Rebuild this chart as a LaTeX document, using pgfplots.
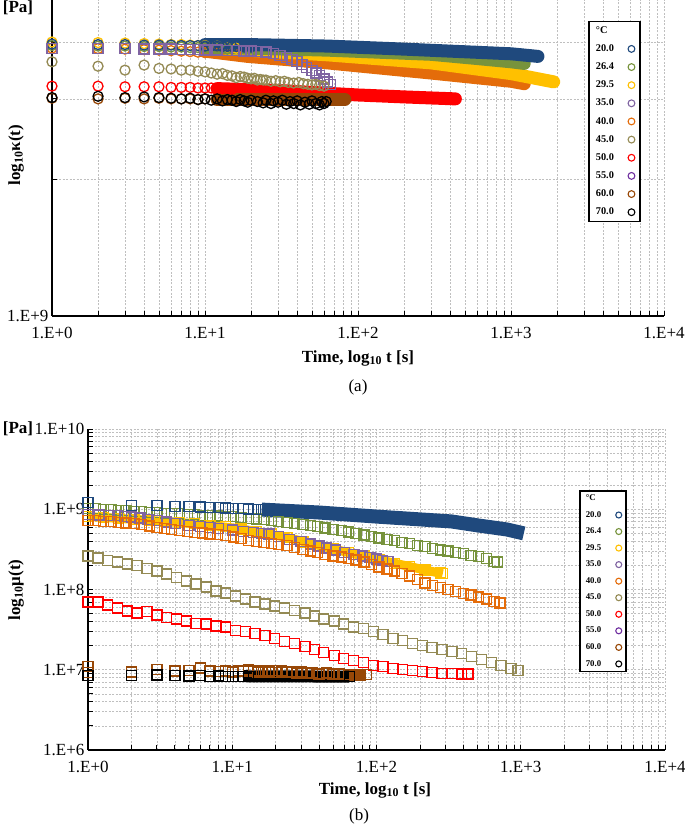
\documentclass[border=0pt]{standalone}
\usepackage{fontspec}
\setmainfont{Liberation Serif}
\usepackage{pgfplots}
\pgfplotsset{compat=1.18}
\definecolor{c20}{HTML}{1F497D}
\definecolor{c26}{HTML}{77933C}
\definecolor{c29}{HTML}{FFC000}
\definecolor{c35}{HTML}{8064A2}
\definecolor{c40}{HTML}{E46C0A}
\definecolor{c45}{HTML}{948A54}
\definecolor{c50}{HTML}{FF0000}
\definecolor{c55}{HTML}{7030A0}
\definecolor{c60}{HTML}{984807}
\definecolor{c70}{HTML}{000000}
\definecolor{gridc}{HTML}{BFBFBF}
\tikzset{
  mycirc/.style={only marks, mark=o, mark size=5pt, line width=1.3pt},
  mysq/.style={only marks, mark=square, mark size=5pt, line width=1.4pt},
  mybanda/.style={no marks, line width=13pt, line cap=round, line join=round},
  mybandb/.style={no marks, line width=12pt, line cap=butt, line join=round},
}
\begin{document}
\begin{tikzpicture}
\useasboundingbox (0pt,0pt) rectangle (685pt,825pt);
% ================= panel (a) =================
\begin{axis}[
  scale only axis, xmode=log, ymode=log, xmin=1, xmax=10000,
  axis lines*=left,
  axis line style={line width=1.4pt, black},
  xtick={1,10,100,1000,10000},
  xticklabels={1.E+0,1.E+1,1.E+2,1.E+3,1.E+4},
  minor xtick={2,3,4,5,6,7,8,9,20,30,40,50,60,70,80,90,200,300,400,500,600,700,800,900,2000,3000,4000,5000,6000,7000,8000,9000},
  xmajorgrids, xminorgrids, ymajorgrids, yminorgrids,
  major grid style={gridc, line width=0.6pt, dash pattern=on 2pt off 1.5pt},
  minor grid style={gridc, line width=0.6pt, dash pattern=on 2pt off 1.5pt},
  tick style={black, line width=0.8pt},
  major tick length=5pt, minor tick length=5pt,
  tick label style={font=\fontsize{17}{17}\selectfont},
  xticklabel style={yshift=-8pt},
  clip=false,
  at={(52pt,509pt)}, anchor=south west, width=612pt, height=316pt,
  ymin=1e9, ymax=4.95e9,
  ytick={1e9}, yticklabels={1.E+9}, minor ytick={2e9,3e9,4e9},
  legend cell align=left,
  legend plot pos=right,
  legend style={at={(axis description cs:0.876,0.934)}, anchor=north west,
    draw=black, line width=1.6pt, fill=white,
    font=\bfseries\fontsize{10.3}{12}\selectfont,
    inner xsep=5pt, inner ysep=3pt, row sep=5.8pt,
    /tikz/every odd column/.append style={column sep=7pt}},
]
% 40.0
\addplot[c40, mybanda, forget plot] coordinates {(10,3.82e9)(19,3.72e9)(63,3.6e9)(300,3.42e9)(1000,3.28e9)(1220,3.24e9)};
\addplot[c40, mycirc, forget plot] coordinates {(1,3.88e9)(2,3.87e9)(3,3.86e9)(4,3.85e9)(5,3.84e9)(6,3.83e9)(7,3.82e9)(8,3.81e9)(9,3.8e9)(10,3.79e9)(12,3.78e9)(14,3.76e9)(16,3.75e9)};
% 29.5
\addplot[c29, mybanda, forget plot] coordinates {(10,3.92e9)(19,3.84e9)(63,3.75e9)(300,3.6e9)(1000,3.41e9)(1900,3.27e9)};
\addplot[c29, mycirc, forget plot] coordinates {(1,4.0e9)(2,3.99e9)(3,3.98e9)(4,3.97e9)(5,3.96e9)(6,3.95e9)(7,3.95e9)(8,3.94e9)(9,3.93e9)(10,3.93e9)(12,3.92e9)(14,3.9e9)(16,3.88e9)};
% 26.4
\addplot[c26, mybanda, forget plot] coordinates {(10,3.9e9)(63,3.84e9)(300,3.76e9)(600,3.68e9)(1000,3.62e9)(1220,3.59e9)};
\addplot[c26, mycirc, forget plot] coordinates {(1,3.93e9)(2,3.92e9)(3,3.92e9)(4,3.91e9)(5,3.91e9)(6,3.9e9)(7,3.9e9)(8,3.89e9)(9,3.89e9)(10,3.88e9)(12,3.87e9)(14,3.86e9)};
% 20.0
\addplot[c20, mybanda, forget plot] coordinates {(10,3.95e9)(19,3.95e9)(63,3.92e9)(200,3.86e9)(1000,3.77e9)(1500,3.72e9)};
\addplot[c20, mycirc, forget plot] coordinates {(1,3.96e9)(2,3.95e9)(3,3.95e9)(4,3.94e9)(5,3.94e9)(6,3.94e9)(7,3.93e9)(8,3.93e9)(9,3.93e9)(10,3.92e9)(11,3.92e9)(12,3.92e9)(13,3.91e9)(14,3.91e9)(15,3.91e9)(16,3.91e9)(18,3.9e9)(20,3.9e9)};
% 35.0
\addplot[c35, mysq, forget plot] coordinates {(1,3.87e9)(2,3.87e9)(3,3.87e9)(4,3.86e9)(5,3.86e9)(6,3.86e9)(7,3.85e9)(8,3.85e9)(9,3.85e9)(10,3.84e9)(12,3.84e9)(14,3.83e9)(16,3.83e9)(18,3.82e9)(20,3.82e9)(22,3.81e9)(25,3.8e9)(28,3.78e9)(31,3.74e9)(34,3.7e9)(37,3.66e9)(40,3.62e9)(43,3.57e9)(46,3.52e9)(50,3.46e9)(53,3.42e9)(56,3.38e9)(60,3.32e9)(63,3.27e9)(66,3.23e9)};
% 45.0
\addplot[c45, mycirc, forget plot] coordinates {(1,3.62e9)(2,3.54e9)(3,3.47e9)(4,3.56e9)(5,3.5e9)(6,3.49e9)(7,3.47e9)(8,3.47e9)(9,3.45e9)(10,3.44e9)(11,3.42e9)(12,3.4e9)(13,3.41e9)(14,3.38e9)(15,3.37e9)(16,3.34e9)(17,3.36e9)(18,3.35e9)(19,3.33e9)(20,3.32e9)(21,3.33e9)(22,3.3e9)(23,3.31e9)(24,3.3e9)(25,3.3e9)(27,3.28e9)(29,3.29e9)(31,3.27e9)(33,3.28e9)(35,3.26e9)(38,3.25e9)(41,3.26e9)(44,3.24e9)(47,3.23e9)(50,3.22e9)(53,3.23e9)(56,3.21e9)(60,3.2e9)};
% 50.0
\addplot[c50, mybanda, forget plot] coordinates {(12,3.16e9)(30,3.13e9)(100,3.06e9)(200,3.03e9)(433,3.0e9)};
\addplot[c50, mycirc, forget plot] coordinates {(1,3.2e9)(2,3.2e9)(3,3.19e9)(4,3.19e9)(5,3.19e9)(6,3.18e9)(7,3.18e9)(8,3.18e9)(9,3.17e9)(10,3.17e9)(11,3.17e9)(12,3.16e9)(13,3.16e9)(14,3.16e9)(15,3.15e9)};
% 60.0
\addplot[c60, mybanda, forget plot] coordinates {(12,2.99e9)(40,2.99e9)(82,2.99e9)};
\addplot[c60, mycirc, forget plot] coordinates {(1,3.01e9)(2,3.0e9)(3,3.01e9)(4,3.0e9)(5,3.01e9)(6,3.0e9)(7,3.0e9)(8,3.0e9)(9,2.99e9)(10,3.0e9)(12,2.99e9)(14,2.99e9)};
% 70.0
\addplot[c70, mycirc, forget plot] coordinates {(1,3.02e9)(2,3.04e9)(3,3.02e9)(4,3.03e9)(5,3.02e9)(6,3.01e9)(7,3.0e9)(8,3.01e9)(9,2.99e9)(10,3.0e9)(11,2.98e9)(12,3.0e9)(13,2.97e9)(14,2.99e9)(15,2.98e9)(16,2.96e9)(17,2.99e9)(18,2.97e9)(19,2.95e9)(20,2.98e9)(22,2.96e9)(24,2.94e9)(25,2.98e9)(27,2.93e9)(28,2.97e9)(30,2.95e9)(32,2.98e9)(34,2.92e9)(36,2.96e9)(38,2.93e9)(40,2.97e9)(42,2.91e9)(45,2.95e9)(48,2.92e9)(50,2.97e9)(53,2.93e9)(56,2.91e9)(58,2.96e9)(60,2.93e9)(62,2.96e9)};
% legend
\addlegendimage{empty legend}\addlegendentry{°C}
\addlegendimage{only marks, mark=o, mark size=3.4pt, line width=1.1pt, c20}\addlegendentry{20.0}
\addlegendimage{only marks, mark=o, mark size=3.4pt, line width=1.1pt, c26}\addlegendentry{26.4}
\addlegendimage{only marks, mark=o, mark size=3.4pt, line width=1.1pt, c29}\addlegendentry{29.5}
\addlegendimage{only marks, mark=o, mark size=3.4pt, line width=1.1pt, c35}\addlegendentry{35.0}
\addlegendimage{only marks, mark=o, mark size=3.4pt, line width=1.1pt, c40}\addlegendentry{40.0}
\addlegendimage{only marks, mark=o, mark size=3.4pt, line width=1.1pt, c45}\addlegendentry{45.0}
\addlegendimage{only marks, mark=o, mark size=3.4pt, line width=1.1pt, c50}\addlegendentry{50.0}
\addlegendimage{only marks, mark=o, mark size=3.4pt, line width=1.1pt, c55}\addlegendentry{55.0}
\addlegendimage{only marks, mark=o, mark size=3.4pt, line width=1.1pt, c60}\addlegendentry{60.0}
\addlegendimage{only marks, mark=o, mark size=3.4pt, line width=1.1pt, c70}\addlegendentry{70.0}
\end{axis}
% ================= panel (b) =================
\begin{axis}[
  scale only axis, xmode=log, ymode=log, xmin=1, xmax=10000,
  axis lines*=left,
  axis line style={line width=1.4pt, black},
  xtick={1,10,100,1000,10000},
  xticklabels={1.E+0,1.E+1,1.E+2,1.E+3,1.E+4},
  minor xtick={2,3,4,5,6,7,8,9,20,30,40,50,60,70,80,90,200,300,400,500,600,700,800,900,2000,3000,4000,5000,6000,7000,8000,9000},
  xmajorgrids, xminorgrids, ymajorgrids, yminorgrids,
  major grid style={gridc, line width=0.6pt, dash pattern=on 2pt off 1.5pt},
  minor grid style={gridc, line width=0.6pt, dash pattern=on 2pt off 1.5pt},
  tick style={black, line width=0.8pt},
  major tick length=5pt, minor tick length=5pt,
  tick label style={font=\fontsize{17}{17}\selectfont},
  xticklabel style={yshift=-8pt},
  clip=false,
  at={(88pt,75pt)}, anchor=south west, width=577pt, height=321pt,
  ymin=1e6, ymax=1e10,
  ytick={1e6,1e7,1e8,1e9,1e10}, yticklabels={1.E+6,1.E+7,1.E+8,1.E+9,1.E+10},
  minor ytick={2e6,3e6,4e6,5e6,6e6,7e6,8e6,9e6,2e7,3e7,4e7,5e7,6e7,7e7,8e7,9e7,2e8,3e8,4e8,5e8,6e8,7e8,8e8,9e8,2e9,3e9,4e9,5e9,6e9,7e9,8e9,9e9},
  legend cell align=left,
  legend plot pos=right,
  legend style={at={(axis description cs:0.851,0.81)}, anchor=north west,
    draw=black, line width=1.6pt, fill=white,
    font=\bfseries\fontsize{8.8}{10}\selectfont,
    inner xsep=4pt, inner ysep=2pt, row sep=5.2pt,
    /tikz/every odd column/.append style={column sep=7pt}},
]
% 26.4
\addplot[c26, mysq, forget plot] coordinates {(1,1.02e9)(1.13,1.02e9)(1.28,9.9e8)(1.44,9.9e8)(1.63,9.6e8)(1.84,9.6e8)(2.08,9.4e8)(2.35,9.4e8)(2.66,9.1e8)(3.0,9.1e8)(3.4,8.9e8)(3.8,8.9e8)(4.3,8.8e8)(4.9,8.6e8)(5.5,8.6e8)(6.2,8.4e8)(7.0,8.4e8)(7.9,8.2e8)(9.0,8.1e8)(10.2,8.1e8)(11.5,7.9e8)(13,7.7e8)(14.7,7.6e8)(16.6,7.5e8)(18.7,7.3e8)(21,7.05e8)(24,6.85e8)(27,6.66e8)(31,6.47e8)(35,6.29e8)(39,6.11e8)(44,5.86e8)(50,5.61e8)(57,5.45e8)(64,5.22e8)(72,5.01e8)(82,4.8e8)(92,4.6e8)(104,4.4e8)(118,4.22e8)(133,4.05e8)(150,3.88e8)(170,3.71e8)(192,3.56e8)(217,3.41e8)(245,3.26e8)(277,3.12e8)(313,3.0e8)(354,2.91e8)(400,2.79e8)(452,2.67e8)(511,2.56e8)(577,2.43e8)(652,2.25e8)(690,2.19e8)};
% 20.0
\addplot[c20, mybandb, line width=14pt, forget plot] coordinates {(16,9.9e8)(40,9.1e8)(100,8.1e8)(330,7.05e8)(500,6.3e8)(800,5.6e8)(1050,5.0e8)};
\addplot[c20, mysq, forget plot] coordinates {(1,1.21e9)(2,1.11e9)(3,1.11e9)(4,1.09e9)(5,1.08e9)(6,1.07e9)(7,1.06e9)(8,1.05e9)(9,1.04e9)(10,1.03e9)(11,1.02e9)(12,1.02e9)(13,1.01e9)(14,1.0e9)(15,1.0e9)(16,9.9e8)(17,9.9e8)(18,9.8e8)(19,9.8e8)(20,9.7e8)};
% 29.5
\addplot[c29, mybandb, line width=9pt, forget plot] coordinates {(1,8.1e8)(2.08,7.5e8)(5.5,6.6e8)(11.5,5.7e8)(24,4.45e8)(50,3.2e8)(104,2.35e8)(217,1.75e8)(288,1.57e8)};
\addplot[c29, mysq, forget plot] coordinates {(1,8.1e8)(1.28,7.9e8)(1.63,7.7e8)(2.08,7.5e8)(2.66,7.3e8)(3.4,7.05e8)(4.3,6.85e8)(5.5,6.6e8)(7,6.3e8)(9,6.1e8)(11.5,5.7e8)(14.7,5.3e8)(18.7,4.9e8)(24,4.45e8)(31,3.9e8)(39,3.5e8)(50,3.2e8)(64,2.9e8)(82,2.6e8)(104,2.35e8)(133,2.1e8)(170,1.95e8)(217,1.75e8)(277,1.6e8)(288,1.57e8)};
% 35.0
\addplot[c35, mysq, forget plot] coordinates {(1,8.6e8)(1.2,8.5e8)(1.4,8.4e8)(1.6,8.3e8)(1.8,8.1e8)(2,8.0e8)(2.3,7.8e8)(2.6,7.5e8)(3,7.2e8)(3.5,6.9e8)(4,6.6e8)(5,6.3e8)(6,6.1e8)(7,5.9e8)(8,5.8e8)(10,5.5e8)(12,5.3e8)(14,5.1e8)(16,5.0e8)(18,4.9e8)(21,4.6e8)(25,4.2e8)(30,3.95e8)(35,3.7e8)(40,3.5e8)(45,3.3e8)(52,3.1e8)(60,2.9e8)(70,2.75e8)(80,2.6e8)(90,2.5e8)(100,2.4e8)(110,2.3e8)(120,2.25e8)};
% 40.0
\addplot[c40, mysq, forget plot] coordinates {(1,7.26e8)(1.13,7.26e8)(1.28,7.05e8)(1.44,7.05e8)(1.63,6.85e8)(1.84,6.75e8)(2.08,6.66e8)(2.35,6.47e8)(2.66,6.2e8)(3.0,5.94e8)(3.4,5.78e8)(3.8,5.61e8)(4.3,5.45e8)(4.9,5.3e8)(5.5,5.15e8)(6.2,5.08e8)(7.0,4.94e8)(7.9,4.87e8)(9.0,4.73e8)(10.2,4.53e8)(11.5,4.34e8)(13,4.1e8)(14.7,3.93e8)(16.6,3.82e8)(18.7,3.71e8)(21,3.66e8)(24,3.56e8)(27,3.36e8)(31,3.17e8)(35,3.0e8)(39,2.9e8)(44,2.75e8)(50,2.6e8)(57,2.53e8)(64,2.42e8)(72,2.32e8)(82,2.19e8)(92,2.04e8)(104,1.9e8)(118,1.79e8)(133,1.69e8)(150,1.58e8)(170,1.47e8)(192,1.33e8)(217,1.2e8)(245,1.12e8)(277,1.06e8)(313,1.0e8)(354,9.4e7)(400,8.9e7)(452,8.5e7)(511,8.1e7)(577,7.6e7)(652,7.1e7)(720,6.8e7)};
% 45.0
\addplot[c45, mysq, forget plot] coordinates {(1,2.6e8)(1.17,2.46e8)(1.37,2.3e8)(1.6,2.2e8)(1.87,2.07e8)(2.19,2.0e8)(2.56,1.84e8)(3.0,1.7e8)(3.5,1.56e8)(4.1,1.4e8)(4.8,1.28e8)(5.6,1.17e8)(6.6,1.07e8)(7.7,9.6e7)(9.0,9.0e7)(10.5,8.3e7)(12.3,7.6e7)(14.4,7.0e7)(16.9,6.6e7)(19.7,6.2e7)(23,5.9e7)(27,5.5e7)(32,5.1e7)(37,4.7e7)(43,4.3e7)(51,4.05e7)(59,3.7e7)(69,3.4e7)(81,3.24e7)(95,3.0e7)(111,2.75e7)(130,2.44e7)(152,2.3e7)(178,2.11e7)(208,2.0e7)(243,1.88e7)(285,1.78e7)(333,1.68e7)(390,1.59e7)(456,1.46e7)(534,1.34e7)(625,1.23e7)(731,1.13e7)(855,1.04e7)(955,9.8e6)};
% 50.0
\addplot[c50, mysq, forget plot] coordinates {(1,7.0e7)(1.17,7.0e7)(1.37,6.4e7)(1.6,5.9e7)(1.87,5.4e7)(2.19,5.1e7)(2.56,5.3e7)(3.0,4.8e7)(3.5,4.5e7)(4.1,4.3e7)(4.8,4.05e7)(5.6,3.8e7)(6.6,3.7e7)(7.7,3.5e7)(9.0,3.4e7)(10.5,3.1e7)(12.3,3.0e7)(14.4,2.81e7)(16.9,2.65e7)(19.7,2.44e7)(23,2.24e7)(27,2.11e7)(32,1.94e7)(37,1.78e7)(43,1.64e7)(51,1.5e7)(59,1.38e7)(69,1.3e7)(81,1.23e7)(95,1.13e7)(111,1.1e7)(130,1.04e7)(152,1.0e7)(178,9.8e6)(208,9.5e6)(243,9.2e6)(285,9.0e6)(333,9.0e6)(390,8.8e6)(430,8.8e6)};
% 60.0
\addplot[c60, mybandb, forget plot] coordinates {(60,8.7e6)(85,8.7e6)};
\addplot[c60, mysq, forget plot] coordinates {(1,1.1e7)(1,9.3e6)(2,9.4e6)(3,1.0e7)(4,9.6e6)(5,9.8e6)(6,1.05e7)(7,9.7e6)(8,9.5e6)(9,9.6e6)(10,9.4e6)(11,9.8e6)(12,9.5e6)(13,9.9e6)(14,9.6e6)(15,9.3e6)(16,9.7e6)(17,9.5e6)(18,9.4e6)(19,9.8e6)(20,9.3e6)(22,9.6e6)(24,9.2e6)(26,9.5e6)(28,9.1e6)(30,9.4e6)(33,9.0e6)(36,9.2e6)(40,8.9e6)(45,9.1e6)(50,8.8e6)(55,8.9e6)(60,8.7e6)(85,8.7e6)};
% 70.0
\addplot[c70, mybandb, forget plot] coordinates {(12,8.3e6)(30,8.25e6)(65,8.2e6)};
\addplot[c70, mysq, forget plot] coordinates {(1,8.5e6)(2,8.5e6)(3,8.6e6)(4,8.5e6)(5,8.4e6)(6,8.5e6)(7,8.3e6)(8,8.4e6)(9,8.2e6)(10,8.3e6)(11,8.3e6)(12,8.2e6)(13,8.3e6)(65,8.2e6)};
% legend
\addlegendimage{empty legend}\addlegendentry{°C}
\addlegendimage{only marks, mark=o, mark size=3pt, line width=1.1pt, c20}\addlegendentry{20.0}
\addlegendimage{only marks, mark=o, mark size=3pt, line width=1.1pt, c26}\addlegendentry{26.4}
\addlegendimage{only marks, mark=o, mark size=3pt, line width=1.1pt, c29}\addlegendentry{29.5}
\addlegendimage{only marks, mark=o, mark size=3pt, line width=1.1pt, c35}\addlegendentry{35.0}
\addlegendimage{only marks, mark=o, mark size=3pt, line width=1.1pt, c40}\addlegendentry{40.0}
\addlegendimage{only marks, mark=o, mark size=3pt, line width=1.1pt, c45}\addlegendentry{45.0}
\addlegendimage{only marks, mark=o, mark size=3pt, line width=1.1pt, c50}\addlegendentry{50.0}
\addlegendimage{only marks, mark=o, mark size=3pt, line width=1.1pt, c55}\addlegendentry{55.0}
\addlegendimage{only marks, mark=o, mark size=3pt, line width=1.1pt, c60}\addlegendentry{60.0}
\addlegendimage{only marks, mark=o, mark size=3pt, line width=1.1pt, c70}\addlegendentry{70.0}
\end{axis}
% ================= text =================
\node[font=\bfseries\fontsize{17}{17}\selectfont] at (18pt,817pt) {[Pa]};
\node[font=\bfseries\fontsize{17}{17}\selectfont, rotate=90] at (16pt,670pt) {log\textsubscript{10}κ(t)};
\node[font=\bfseries\fontsize{17}{17}\selectfont] at (358pt,467pt) {Time, log\textsubscript{10} t [s]};
\node[font=\fontsize{17}{17}\selectfont] at (358pt,438pt) {(a)};
\node[font=\bfseries\fontsize{17}{17}\selectfont] at (18pt,396pt) {[Pa]};
\node[font=\bfseries\fontsize{17}{17}\selectfont, rotate=90] at (16pt,235pt) {log\textsubscript{10}μ(t)};
\node[font=\bfseries\fontsize{17}{17}\selectfont] at (375pt,35pt) {Time, log\textsubscript{10} t [s]};
\node[font=\fontsize{17}{17}\selectfont] at (359pt,9pt) {(b)};
\end{tikzpicture}
\end{document}
